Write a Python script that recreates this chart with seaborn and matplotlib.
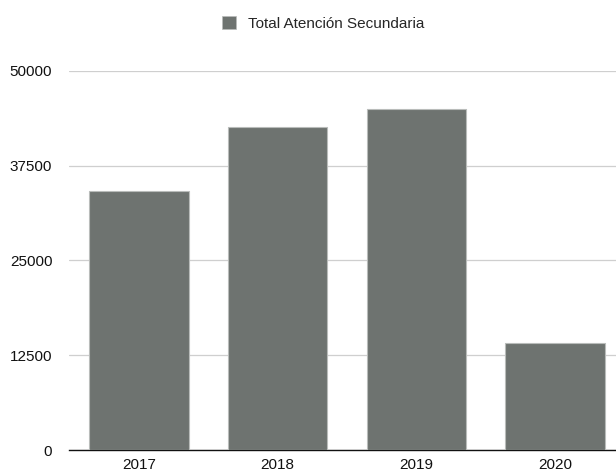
import matplotlib
matplotlib.use("Agg")
import matplotlib.pyplot as plt
import seaborn as sns
import pandas as pd
from matplotlib.patches import Patch

years = ["2017", "2018", "2019", "2020"]
totals = [34150, 42620, 44950, 14070]
y_ticks = [0, 12500, 25000, 37500, 50000]
series_name = "Total Atención Secundaria"

bar_color = "#6e7370"

sns.set_theme(style="white")
plt.rcParams["font.family"] = ["Liberation Sans", "DejaVu Sans"]

df = pd.DataFrame({"year": years, "total": totals})

fig = plt.figure(figsize=(6.16, 4.73), dpi=100)
ax = fig.add_axes([0.112, 0.0486, 0.888, 0.8019])

sns.barplot(data=df, x="year", y="total", color=bar_color, saturation=1,
            width=0.715, edgecolor="#b9bcba", linewidth=0.8, ax=ax, zorder=3)

ax.set_ylim(0, 50000)
ax.set_xlim(-0.505, 3.44)
ax.set_yticks(y_ticks)
ax.set_yticklabels([str(v) for v in y_ticks])
ax.yaxis.grid(True, color="#cfcfcf", linewidth=0.9, zorder=0)
ax.set_axisbelow(True)
ax.tick_params(axis="y", length=0, pad=12, labelsize=11, colors="#111111")
ax.tick_params(axis="x", length=0, pad=6, labelsize=11, colors="#111111")
ax.set_xlabel("")
ax.set_ylabel("")
for side in ["top", "right", "left"]:
    ax.spines[side].set_visible(False)
ax.spines["bottom"].set_color("#111111")
ax.spines["bottom"].set_linewidth(1.0)

handle = Patch(facecolor=bar_color, edgecolor="#b9bcba", linewidth=0.5)
fig.legend([handle], [series_name], loc="center", bbox_to_anchor=(0.524, 0.95),
           frameon=False, fontsize=11, handlelength=0.95, handleheight=0.95,
           handletextpad=0.75)

fig.savefig("out.png", dpi=100)
